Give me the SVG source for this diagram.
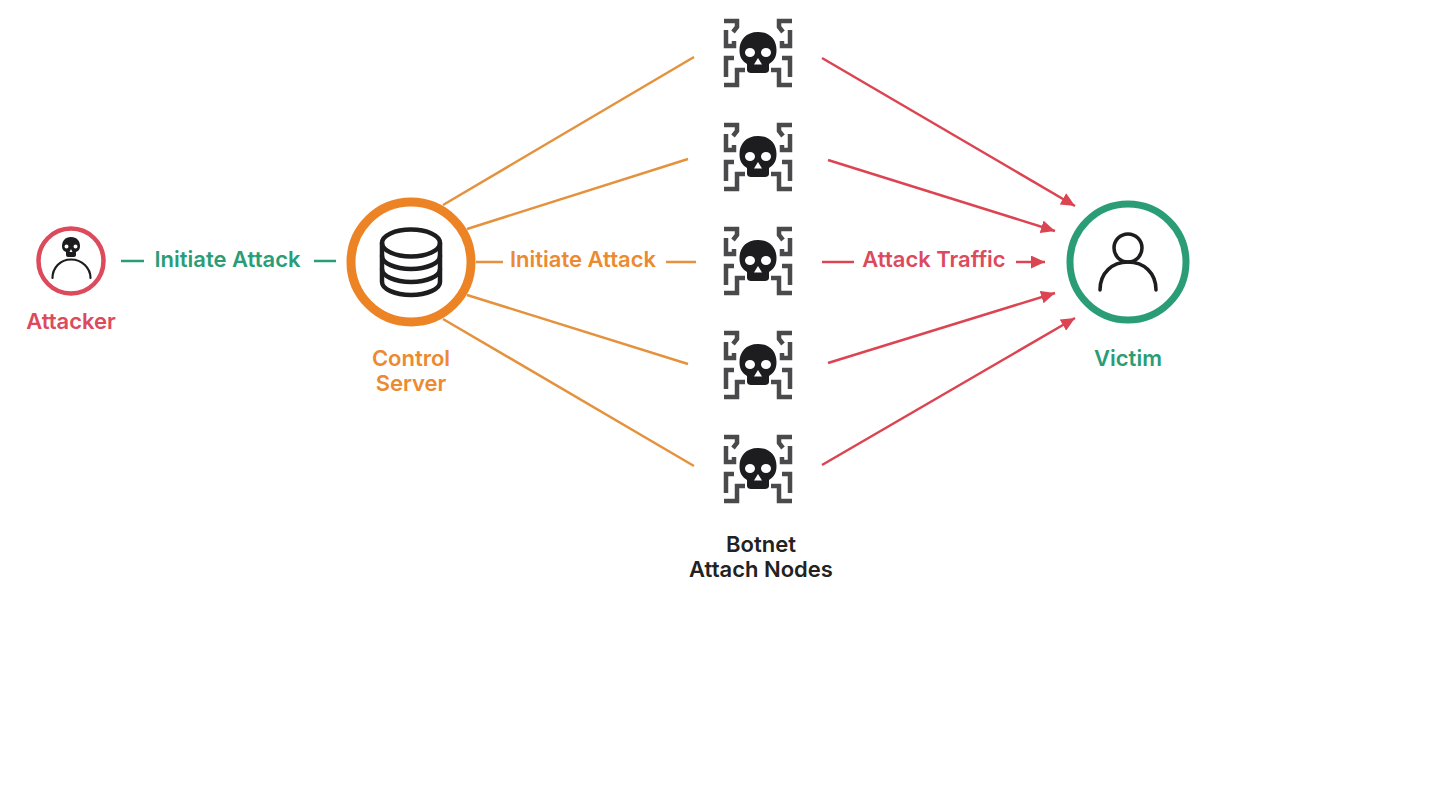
<svg xmlns="http://www.w3.org/2000/svg" width="1440" height="810" viewBox="0 0 1440 810">
<style>
text{font-family:Inter,"Liberation Sans",sans-serif;font-weight:600;font-size:22px;text-anchor:middle}
.g{fill:#2a9d76}.o{fill:#ec8a30}.r{fill:#dc4a5c}.k{fill:#222}
.lg,.lo,.lr{fill:none;stroke-width:2.500}
.lg{stroke:#2a9d76}.lo{stroke:#e4923e}.lr{stroke:#dc4452}
.br{fill:none;stroke:#4a4a4c;stroke-width:4.500}
.ic{fill:none;stroke:#1d1d1f;stroke-linecap:round}
</style>
<defs>
<marker id="ah" markerUnits="userSpaceOnUse" markerWidth="15" markerHeight="13" refX="14" refY="6.500" orient="auto"><path d="M0 0L14 6.500L0 13Z" fill="#dc4452"/></marker>
<symbol id="bot" overflow="visible">
<g class="br">
<path d="M-34-32H-21V-26L-25-21M-32-23V-7H-24V-12"/>
<path d="M34-32H21V-26L25-21M32-23V-7H24V-12"/>
<path d="M-24 5H-32V24M-34 32H-21V17H-13"/>
<path d="M24 5H32V24M34 32H21V17H13"/>
</g>
<path fill-rule="evenodd" fill="#1d1d1f" d="M0-21C-12-21-18.500-13-18.500-3C-18.500 4-16 8-11 11V17C-11 19-9 20-7 20H7C9 20 11 19 11 17V11C16 8 18.500 4 18.500-3C18.500-13 12-21 0-21ZM-8-5A5 4.500 0 1 1-8 4A5 4.500 0 1 1-8-5ZM8-5A5 4.500 0 1 1 8 4A5 4.500 0 1 1 8-5ZM0 5L4 11.500H-4Z"/>
</symbol>
</defs>
<rect width="1440" height="810" fill="#fff"/>
<g id="connectors">
<path class="lg" d="M121 261H144M314 261H336"/>
<path class="lo" d="M443 205L694 57M467 229L688 159M476 262H503M666 262H696M467 295L688 364M443 319L694 466"/>
<path class="lr" marker-end="url(#ah)" d="M822 58L1075 206"/>
<path class="lr" marker-end="url(#ah)" d="M828 160L1055 231"/>
<path class="lr" d="M822 262H854"/>
<path class="lr" marker-end="url(#ah)" d="M1016 262H1045"/>
<path class="lr" marker-end="url(#ah)" d="M828 363L1055 293"/>
<path class="lr" marker-end="url(#ah)" d="M822 465L1075 318"/>
<text class="g" x="227.500" y="267">Initiate Attack</text>
<text class="o" x="583" y="267">Initiate Attack</text>
<text class="r" x="934" y="267">Attack Traffic</text>
</g>
<g id="attacker">
<circle cx="71" cy="261" r="32.500" fill="none" stroke="#dc4a5c" stroke-width="4.500"/>
<path fill-rule="evenodd" fill="#1d1d1f" d="M71 237C65 237 62 241 62 246C62 249 63 251 66 252V255C66 256 67 257 68 257H74C75 257 76 256 76 255V252C79 251 80 249 80 246C80 241 77 237 71 237ZM66.500 244.500A2 2 0 1 1 66.500 248.500A2 2 0 1 1 66.500 244.500ZM75.500 244.500A2 2 0 1 1 75.500 248.500A2 2 0 1 1 75.500 244.500ZM71 249L72.500 252H69.500Z"/>
<path class="ic" stroke-width="2.200" d="M52.500 278C52.500 268 60 259.500 71 259.500C82 259.500 90.500 268 90.500 278"/>
<text class="r" x="71" y="329">Attacker</text>
</g>
<g id="control-server">
<circle cx="411" cy="262" r="60" fill="#fff" stroke="#ec8426" stroke-width="9"/>
<g class="ic" stroke-width="4.500">
<ellipse cx="411" cy="243" rx="29" ry="13.500"/>
<path d="M382 243V282C382 289 395 295 411 295C427 295 440 289 440 282V243"/>
<path d="M382 256C382 263 395 269 411 269C427 269 440 263 440 256"/>
<path d="M382 269C382 276 395 282 411 282C427 282 440 276 440 269"/>
</g>
<text class="o" x="411" y="366">Control</text>
<text class="o" x="411" y="391">Server</text>
</g>
<g id="bot-1"><use href="#bot" x="758" y="53"/></g>
<g id="bot-2"><use href="#bot" x="758" y="157"/></g>
<g id="bot-3"><use href="#bot" x="758" y="261"/></g>
<g id="bot-4"><use href="#bot" x="758" y="365"/></g>
<g id="bot-5"><use href="#bot" x="758" y="469"/></g>
<g id="botnet-label">
<text class="k" x="761" y="552">Botnet</text>
<text class="k" x="761" y="577">Attach Nodes</text>
</g>
<g id="victim">
<circle cx="1128" cy="262" r="58" fill="#fff" stroke="#2a9d76" stroke-width="7"/>
<g class="ic" stroke-width="3.500">
<circle cx="1128" cy="248" r="14"/>
<path d="M1100 290C1100 273 1112 262 1128 262C1144 262 1156 273 1156 290"/>
</g>
<text class="g" x="1128" y="366">Victim</text>
</g>
</svg>
